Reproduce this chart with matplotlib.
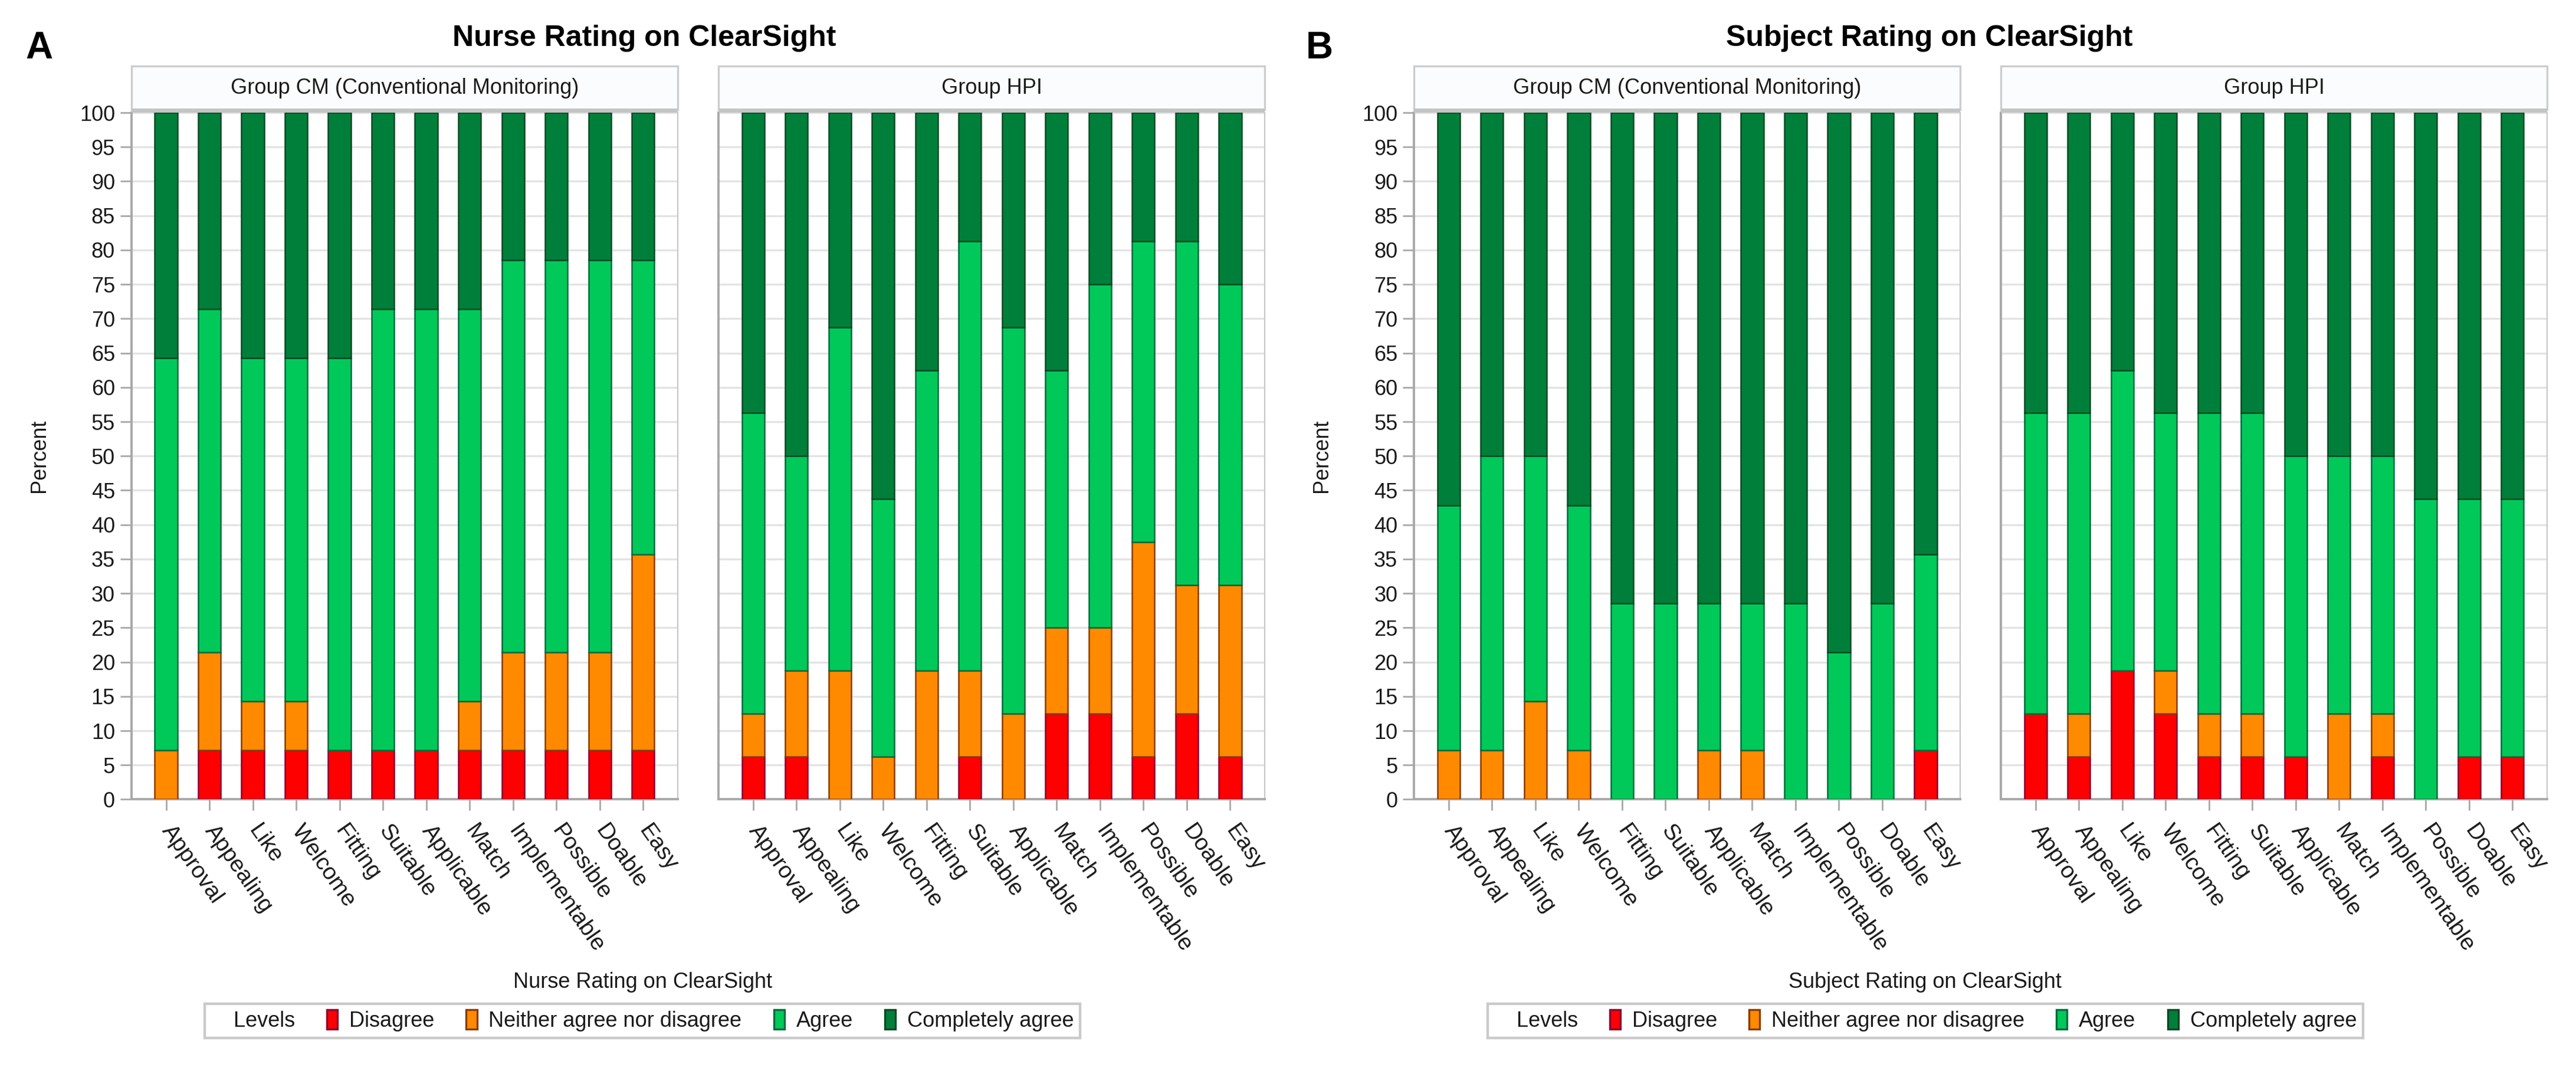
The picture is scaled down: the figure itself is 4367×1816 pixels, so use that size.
import matplotlib
matplotlib.use("Agg")
import matplotlib.pyplot as plt
from matplotlib.patches import Patch, Rectangle

plt.rcParams['font.family'] = ['Liberation Sans', 'DejaVu Sans']

items = ["Approval", "Appealing", "Like", "Welcome", "Fitting", "Suitable",
         "Applicable", "Match", "Implementable", "Possible", "Doable", "Easy"]
levels = ["Disagree", "Neither agree nor disagree", "Agree", "Completely agree"]
level_colors = ["#FF0000", "#FF8A00", "#00C95A", "#007F3B"]
edge_colors = ["#8B0030", "#8B3A00", "#006B3A", "#0B4A22"]

# Nurse rating, group CM (n=14)
nurse_cm_disagree = [0, 7.14, 7.14, 7.14, 7.14, 7.14, 7.14, 7.14, 7.14, 7.14, 7.14, 7.14]
nurse_cm_neither = [7.14, 14.29, 7.14, 7.14, 0, 0, 0, 7.14, 14.29, 14.29, 14.29, 28.57]
nurse_cm_agree = [57.14, 50.0, 50.0, 50.0, 57.14, 64.29, 64.29, 57.14, 57.14, 57.14, 57.14, 42.86]
nurse_cm_complete = [35.71, 28.57, 35.71, 35.71, 35.71, 28.57, 28.57, 28.57, 21.43, 21.43, 21.43, 21.43]

# Nurse rating, group HPI (n=16)
nurse_hpi_disagree = [6.25, 6.25, 0, 0, 0, 6.25, 0, 12.5, 12.5, 6.25, 12.5, 6.25]
nurse_hpi_neither = [6.25, 12.5, 18.75, 6.25, 18.75, 12.5, 12.5, 12.5, 12.5, 31.25, 18.75, 25.0]
nurse_hpi_agree = [43.75, 31.25, 50.0, 37.5, 43.75, 62.5, 56.25, 37.5, 50.0, 43.75, 50.0, 43.75]
nurse_hpi_complete = [43.75, 50.0, 31.25, 56.25, 37.5, 18.75, 31.25, 37.5, 25.0, 18.75, 18.75, 25.0]

# Subject rating, group CM (n=14)
subj_cm_disagree = [0, 0, 0, 0, 0, 0, 0, 0, 0, 0, 0, 7.14]
subj_cm_neither = [7.14, 7.14, 14.29, 7.14, 0, 0, 7.14, 7.14, 0, 0, 0, 0]
subj_cm_agree = [35.71, 42.86, 35.71, 35.71, 28.57, 28.57, 21.43, 21.43, 28.57, 21.43, 28.57, 28.57]
subj_cm_complete = [57.14, 50.0, 50.0, 57.14, 71.43, 71.43, 71.43, 71.43, 71.43, 78.57, 71.43, 64.29]

# Subject rating, group HPI (n=16)
subj_hpi_disagree = [12.5, 6.25, 18.75, 12.5, 6.25, 6.25, 6.25, 0, 6.25, 0, 6.25, 6.25]
subj_hpi_neither = [0, 6.25, 0, 6.25, 6.25, 6.25, 0, 12.5, 6.25, 0, 0, 0]
subj_hpi_agree = [43.75, 43.75, 43.75, 37.5, 43.75, 43.75, 43.75, 37.5, 37.5, 43.75, 37.5, 37.5]
subj_hpi_complete = [43.75, 43.75, 37.5, 43.75, 43.75, 43.75, 50.0, 50.0, 50.0, 56.25, 56.25, 56.25]

strip_cm = "Group CM (Conventional Monitoring)"
strip_hpi = "Group HPI"

GRID = "#E3E3E3"
AXC = "#A8A8A8"
TXT = "#1A1A1A"


def draw_panel(ax, series, strip_label, show_y):
    x = list(range(len(items)))
    bottom = [0.0] * len(items)
    for vals, fc, ec in zip(series, level_colors, edge_colors):
        ax.bar(x, vals, width=0.52, bottom=bottom, color=fc, edgecolor=ec,
               linewidth=0.9, zorder=3)
        bottom = [b + v for b, v in zip(bottom, vals)]
    ax.set_xlim(-0.8, len(items) - 0.2)
    ax.set_ylim(0, 100)
    ax.set_yticks(range(0, 101, 5))
    ax.grid(axis='y', color=GRID, linewidth=1.2, zorder=0)
    ax.set_axisbelow(True)
    ax.set_xticks(x)
    ax.set_xticklabels(items)
    for lab in ax.get_xticklabels():
        lab.set(rotation=-55, ha='left', va='center', rotation_mode='anchor')
    ax.tick_params(axis='x', length=7, width=1, color=AXC, pad=10,
                   labelsize=14, labelcolor=TXT)
    if show_y:
        ax.tick_params(axis='y', length=7, width=1, color=AXC, pad=3,
                       labelsize=13, labelcolor=TXT)
        ax.set_ylabel("Percent", fontsize=13, color=TXT)
        ax.yaxis.set_label_coords(-0.15, 0.5)
    else:
        ax.tick_params(axis='y', left=False, labelleft=False)
    for side in ['left', 'bottom']:
        ax.spines[side].set_color(AXC)
        ax.spines[side].set_linewidth(1.4)
    ax.spines['right'].set_color("#C8C8C8")
    ax.spines['top'].set_visible(False)
    # facet strip on top
    ax.add_patch(Rectangle((0, 1.004), 1, 0.064, transform=ax.transAxes,
                           facecolor="#FBFCFD", edgecolor="#CDCDCD",
                           linewidth=1.2, clip_on=False, zorder=5))
    ax.add_patch(Rectangle((0, 1.0), 1, 0.006, transform=ax.transAxes,
                           facecolor="#C4C4C4", edgecolor="none",
                           clip_on=False, zorder=6))
    ax.text(0.5, 1.036, strip_label, transform=ax.transAxes, ha='center',
            va='center', fontsize=13, color=TXT, zorder=7)


fig = plt.figure(figsize=(21.835, 9.08), dpi=200)

panels = [
    ([0.0510, 0.2536, 0.2121, 0.6412], [nurse_cm_disagree, nurse_cm_neither, nurse_cm_agree, nurse_cm_complete], strip_cm, True),
    ([0.2789, 0.2536, 0.2121, 0.6412], [nurse_hpi_disagree, nurse_hpi_neither, nurse_hpi_agree, nurse_hpi_complete], strip_hpi, False),
    ([0.5489, 0.2536, 0.2121, 0.6412], [subj_cm_disagree, subj_cm_neither, subj_cm_agree, subj_cm_complete], strip_cm, True),
    ([0.7767, 0.2536, 0.2121, 0.6412], [subj_hpi_disagree, subj_hpi_neither, subj_hpi_agree, subj_hpi_complete], strip_hpi, False),
]
for rect, series, strip_label, show_y in panels:
    ax = fig.add_axes(rect)
    draw_panel(ax, series, strip_label, show_y)

# panel letters and titles
fig.text(0.010, 0.955, "A", fontsize=23, fontweight='bold', ha='left', va='center')
fig.text(0.507, 0.955, "B", fontsize=23, fontweight='bold', ha='left', va='center')
fig.text(0.2500, 0.964, "Nurse Rating on ClearSight", fontsize=18,
         fontweight='bold', ha='center', va='center')
fig.text(0.7490, 0.964, "Subject Rating on ClearSight", fontsize=18,
         fontweight='bold', ha='center', va='center')

# x-axis titles
fig.text(0.2494, 0.083, "Nurse Rating on ClearSight", fontsize=13,
         color=TXT, ha='center', va='center')
fig.text(0.7474, 0.083, "Subject Rating on ClearSight", fontsize=13,
         color=TXT, ha='center', va='center')

# legends
handles = [Patch(facecolor='none', edgecolor='none')]
handles += [Patch(facecolor=fc, edgecolor=ec, linewidth=1.2)
            for fc, ec in zip(level_colors, edge_colors)]
labels = ["Levels"] + levels
for cx in [0.2494, 0.7474]:
    leg = fig.legend(handles, labels, loc='center', bbox_to_anchor=(cx, 0.047),
                     ncol=5, fontsize=13, frameon=True, fancybox=False,
                     edgecolor="#BDBDBD", handlelength=0.5, handleheight=1.0,
                     handletextpad=0.55, columnspacing=1.5, borderpad=0.3)
    leg.get_frame().set_linewidth(1.6)
    for t in leg.get_texts():
        t.set_color(TXT)

fig.savefig("out.png", dpi=200, facecolor='white')
